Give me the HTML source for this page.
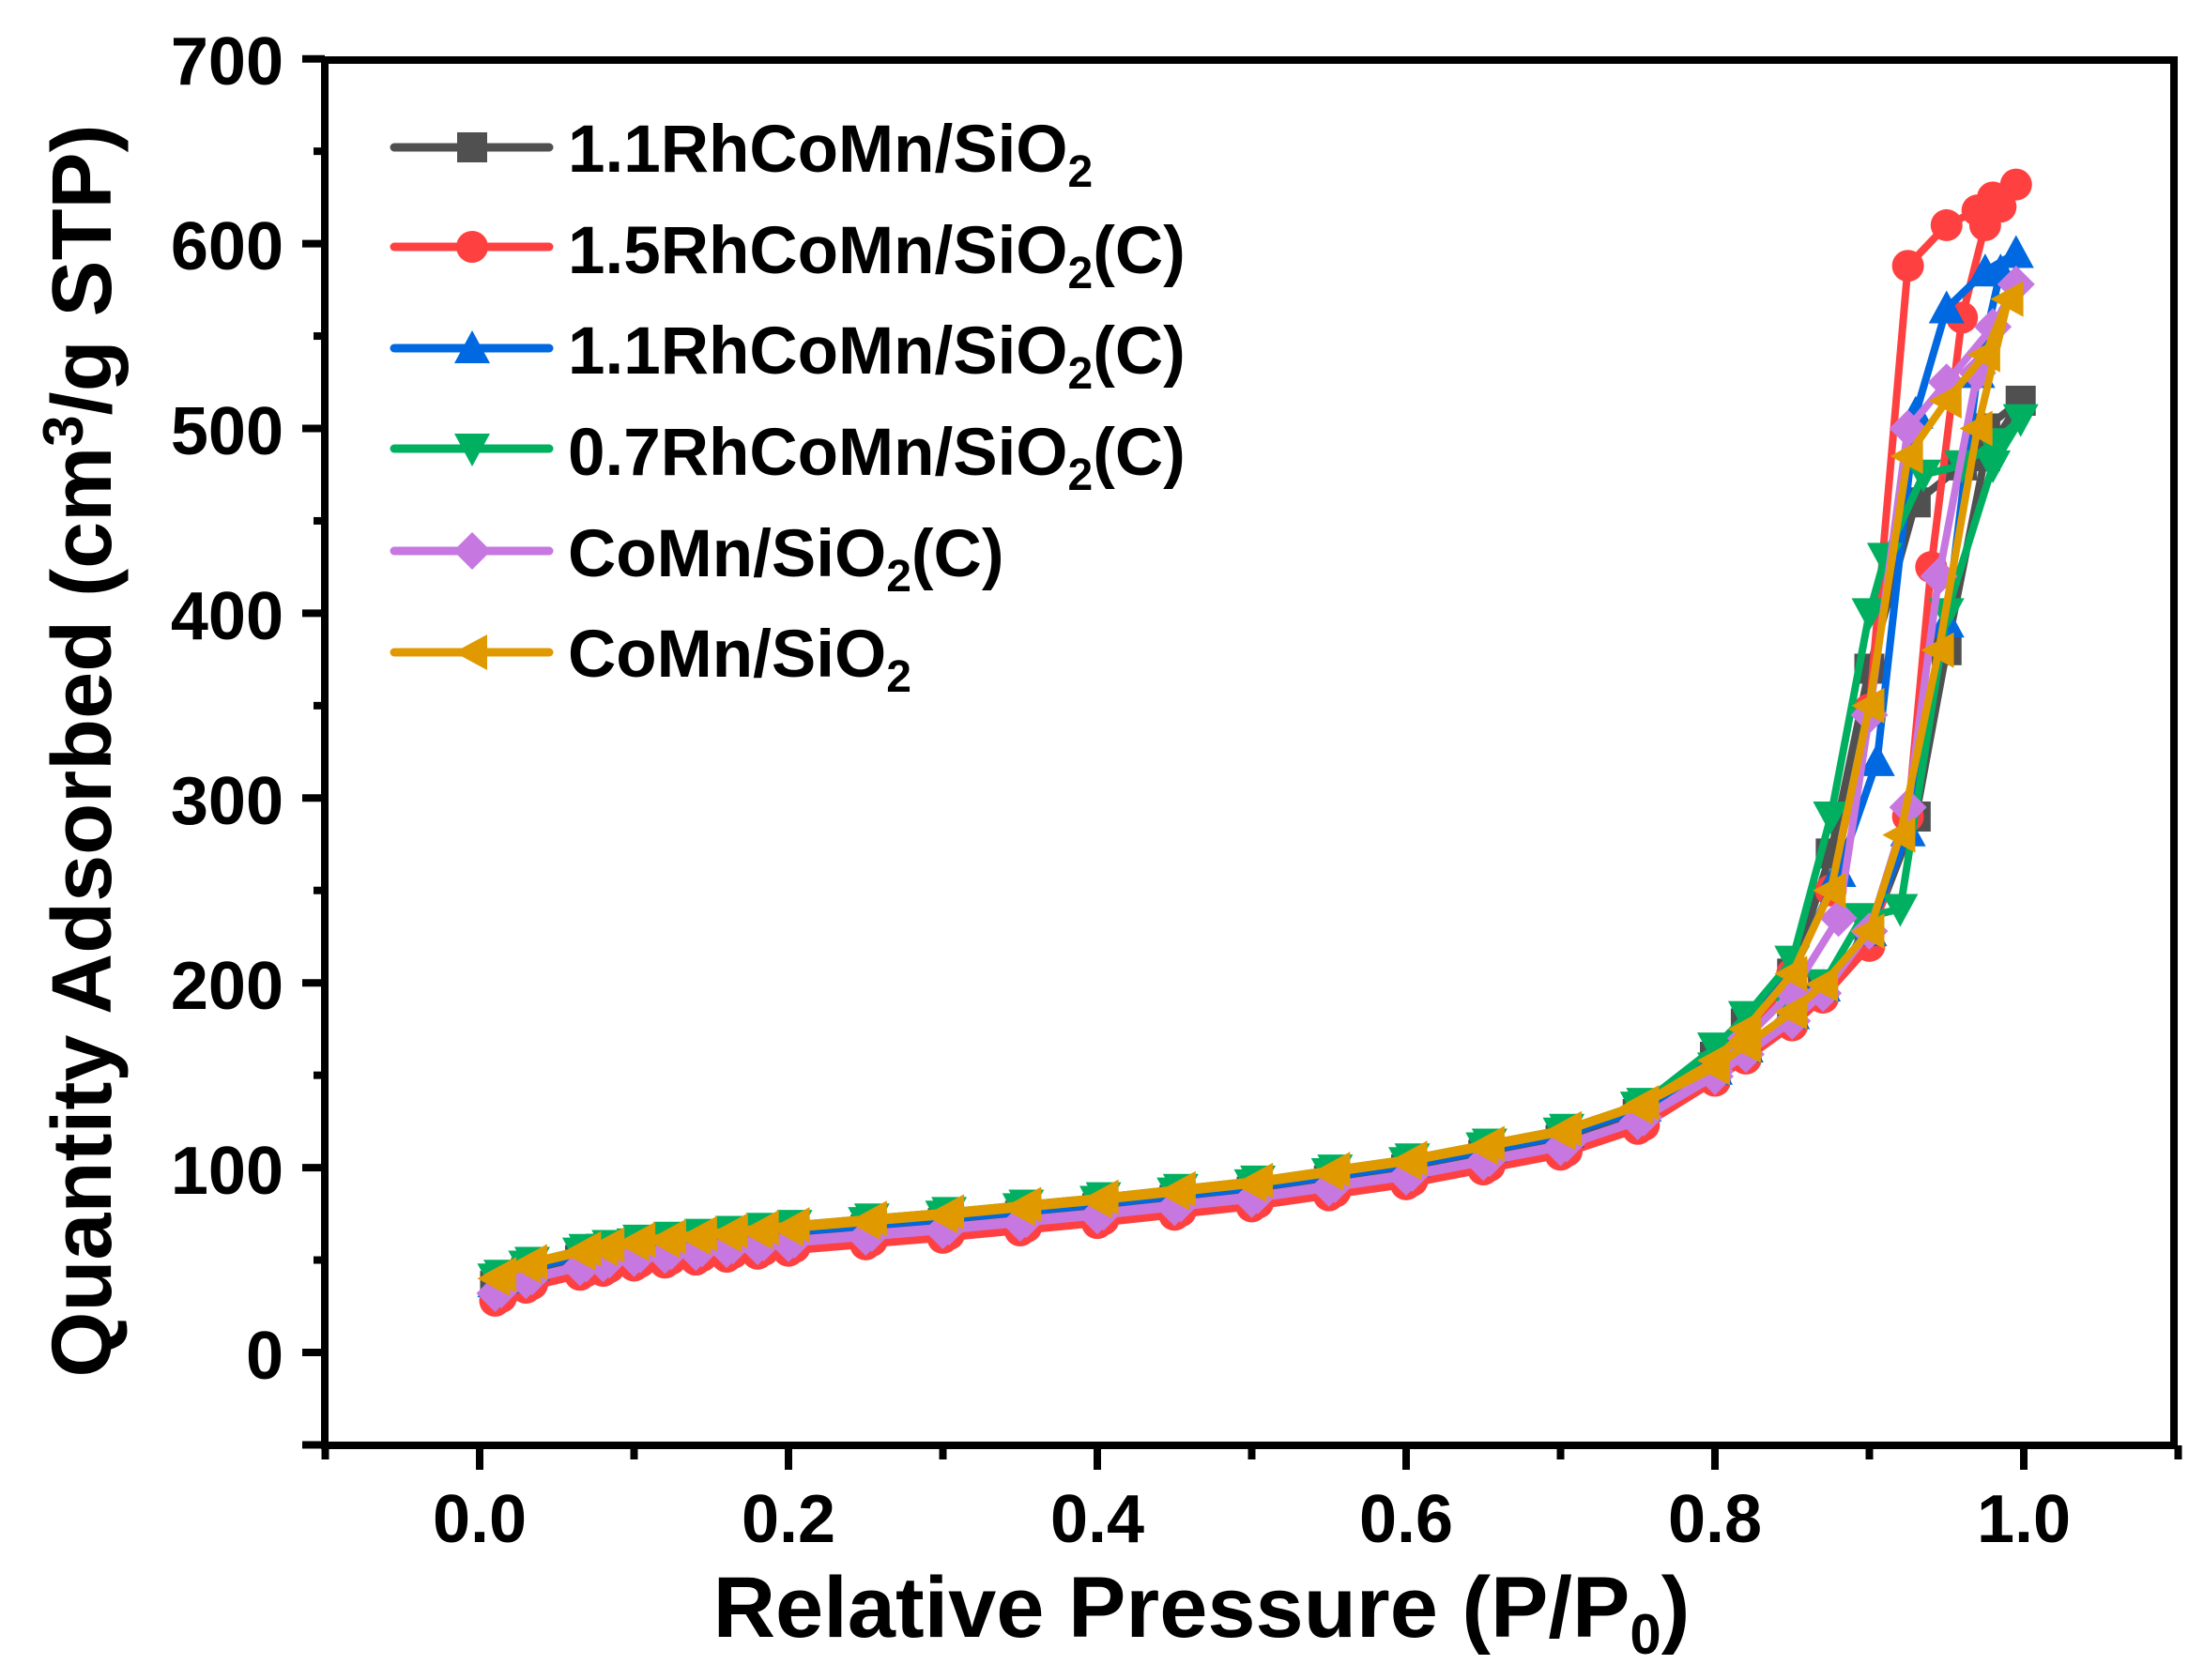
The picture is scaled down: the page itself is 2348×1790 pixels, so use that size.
<!DOCTYPE html>
<html><head><meta charset="utf-8"><style>
html,body{margin:0;padding:0;background:#fff;}
svg{display:block;}
text{font-family:"Liberation Sans",Arial,sans-serif;font-weight:bold;fill:#000;}
</style></head><body>
<svg id="s" width="2348" height="1790" viewBox="0 0 2348 1790" xmlns="http://www.w3.org/2000/svg">
<g id="data"></g>
<rect x="346" y="64" width="1970" height="1476" fill="none" stroke="#000" stroke-width="8"/>
<g stroke="#000" stroke-width="8" id="ticks"></g>
<g font-size="72" text-anchor="end">
<text x="302" y="90">700</text>
<text x="302" y="287">600</text>
<text x="302" y="484">500</text>
<text x="302" y="681">400</text>
<text x="302" y="878">300</text>
<text x="302" y="1075">200</text>
<text x="302" y="1272">100</text>
<text x="302" y="1469">0</text>
</g>
<g font-size="72" text-anchor="middle">
<text x="511" y="1643">0.0</text>
<text x="840" y="1643">0.2</text>
<text x="1169" y="1643">0.4</text>
<text x="1498" y="1643">0.6</text>
<text x="1827" y="1643">0.8</text>
<text x="2156" y="1643">1.0</text>
</g>
<text x="1280" y="1744" font-size="92" text-anchor="middle">Relative Pressure (P/P<tspan font-size="60" dy="18">0</tspan><tspan dy="-18">)</tspan></text>
<text transform="translate(118,800) rotate(-90)" font-size="90" text-anchor="middle">Quantity Adsorbed (cm<tspan font-size="60" dy="-30">3</tspan><tspan dy="30">/g STP)</tspan></text>
<g id="legend"></g>
<g font-size="71">
<text x="605" y="183">1.1RhCoMn/SiO<tspan font-size="48" dy="16">2</tspan></text>
<text x="605" y="291">1.5RhCoMn/SiO<tspan font-size="48" dy="16">2</tspan><tspan dy="-16">(C)</tspan></text>
<text x="605" y="398">1.1RhCoMn/SiO<tspan font-size="48" dy="16">2</tspan><tspan dy="-16">(C)</tspan></text>
<text x="605" y="506">0.7RhCoMn/SiO<tspan font-size="48" dy="16">2</tspan><tspan dy="-16">(C)</tspan></text>
<text x="605" y="614">CoMn/SiO<tspan font-size="48" dy="16">2</tspan><tspan dy="-16">(C)</tspan></text>
<text x="605" y="721">CoMn/SiO<tspan font-size="48" dy="16">2</tspan></text>
</g>
</svg>
<script>
var NS="http://www.w3.org/2000/svg";
function X(p){return 511+p*1645;}
function Y(v){return 1441-v*1.969;}
function el(t,a,parent){var e=document.createElementNS(NS,t);for(var k in a)e.setAttribute(k,a[k]);parent.appendChild(e);return e;}
var ticks=document.getElementById('ticks');
for(var v=0;v<=700;v+=50){var y=Y(v);el('line',{x1:v%100==0?322:334,x2:346,y1:y,y2:y},ticks);}
el('line',{x1:322,x2:346,y1:Y(-50),y2:Y(-50)},ticks);
for(var i=-1;i<=11;i++){var x=X(i/10);el('line',{x1:x,x2:x,y1:1540,y2:(i%2==0)?1566:1555},ticks);}
function marker(type,x,y,c,g){
 var r=16;
 if(type=='sq')el('rect',{x:x-r,y:y-r,width:2*r,height:2*r,fill:c},g);
 else if(type=='ci')el('circle',{cx:x,cy:y,r:r+1,fill:c},g);
 else if(type=='up')el('polygon',{points:(x)+','+(y-r-3)+' '+(x+r+3)+','+(y+r)+' '+(x-r-3)+','+(y+r),fill:c},g);
 else if(type=='dn')el('polygon',{points:(x)+','+(y+r+3)+' '+(x+r+3)+','+(y-r)+' '+(x-r-3)+','+(y-r),fill:c},g);
 else if(type=='di')el('polygon',{points:x+','+(y-r-4)+' '+(x+r+4)+','+y+' '+x+','+(y+r+4)+' '+(x-r-4)+','+y,fill:c},g);
 else if(type=='le')el('polygon',{points:(x-r-3)+','+y+' '+(x+r)+','+(y-r-3)+' '+(x+r)+','+(y+r+3),fill:c},g);
}
var lowP=[0.01,0.03,0.065,0.08,0.1,0.12,0.14,0.16,0.18,0.2,0.25,0.3,0.35,0.4,0.45,0.5,0.55,0.6,0.65,0.7,0.75,0.8,0.82,0.85,0.87];
var baseK=[[0.01,38],[0.03,45],[0.065,52],[0.1,57],[0.2,65],[0.3,72],[0.4,80],[0.5,89],[0.6,101],[0.7,117],[0.75,131],[0.8,153],[0.85,183],[0.87,198]];
function base(p){for(var i=0;i<baseK.length-1;i++){if(p<=baseK[i+1][0]){var a=baseK[i],b=baseK[i+1];return a[1]+(b[1]-a[1])*(p-a[0])/(b[0]-a[0]);}}return baseK[baseK.length-1][1];}
var S=[
 {c:'#505050',m:'sq',off:-2,ads:[[0.9,225],[0.93,290],[0.95,380],[0.975,485],[0.998,515]],des:[[0.975,500],[0.96,480],[0.93,460],[0.9,370],[0.875,270],[0.85,205],[0.82,178],[0.8,160]]},
 {c:'#ff4040',m:'ci',off:-10,ads:[[0.9,220],[0.925,290],[0.94,425],[0.96,560],[0.975,610],[0.985,620],[0.995,632]],des:[[0.98,625],[0.97,618],[0.95,610],[0.925,588],[0.9,348],[0.875,250],[0.85,205],[0.82,170],[0.8,150]]},
 {c:'#0068e0',m:'up',off:0,ads:[[0.9,228],[0.925,282],[0.95,395],[0.97,530],[0.985,585],[0.995,595]],des:[[0.975,585],[0.95,565],[0.93,508],[0.905,320],[0.88,260],[0.85,205],[0.82,178],[0.8,160]]},
 {c:'#00b060',m:'dn',off:2,ads:[[0.895,235],[0.92,240],[0.95,400],[0.98,480],[0.998,505]],des:[[0.98,492],[0.96,480],[0.935,475],[0.91,430],[0.9,400],[0.875,290],[0.85,212],[0.82,182],[0.8,165]]},
 {c:'#c678e0',m:'di',off:-6,ads:[[0.9,228],[0.925,295],[0.945,420],[0.97,530],[0.995,578]],des:[[0.98,555],[0.95,525],[0.925,500],[0.9,345],[0.88,235],[0.85,195],[0.82,170],[0.8,152]]},
 {c:'#e09a00',m:'le',off:2,ads:[[0.9,228],[0.92,280],[0.945,380],[0.97,500],[0.99,570]],des:[[0.975,540],[0.95,515],[0.925,485],[0.9,350],[0.875,250],[0.85,205],[0.82,175],[0.8,158]]}
];
var g=document.getElementById('data');
S.forEach(function(s){
 var pts=[];
 lowP.forEach(function(p){var o=s.off*(p<0.8?1:0.6);pts.push([p,base(p)+o]);});
 s.ads.forEach(function(q){pts.push(q);});
 s.des.forEach(function(q){pts.push(q);});
 for(var i=lowP.length-1;i>=0;i--){var p=lowP[i];if(p>=0.8)continue;pts.push([p+0.004,base(p)+s.off+2]);}
 var d=pts.map(function(q,i){return (i?'L':'M')+X(q[0]).toFixed(1)+','+Y(q[1]).toFixed(1);}).join(' ');
 el('path',{d:d,fill:'none',stroke:s.c,'stroke-width':8,'stroke-linejoin':'round'},g);
 pts.forEach(function(q){marker(s.m,X(q[0]),Y(q[1]),s.c,g);});
});
var lg=document.getElementById('legend');
var ly=[157,263,371,478,587,695];
S.forEach(function(s,i){el('line',{x1:420,x2:585,y1:ly[i],y2:ly[i],stroke:s.c,'stroke-width':9,'stroke-linecap':'round'},lg);marker(s.m,503,ly[i],s.c,lg);});
</script>
</body></html>
